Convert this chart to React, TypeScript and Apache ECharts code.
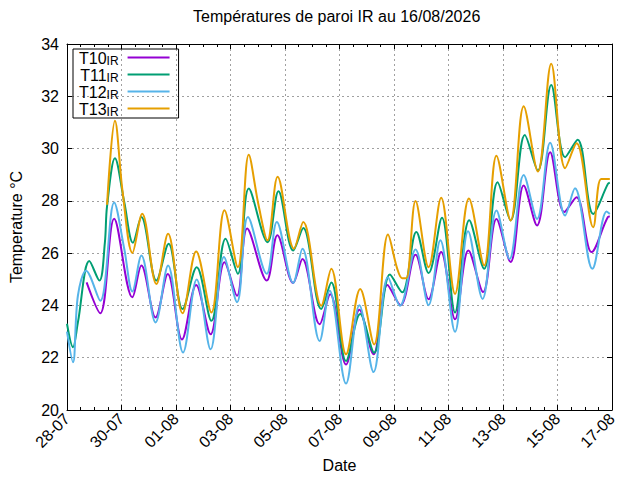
import * as echarts from 'echarts';
import React, { useEffect, useRef } from 'react';

// x = days since 28-07 00:00
const DATE_LABELS = ['28-07', '30-07', '01-08', '03-08', '05-08', '07-08', '09-08', '11-08', '13-08', '15-08', '17-08'];

const SERIES_NAMES = ['T10', 'T11', 'T12', 'T13'];
const SERIES_COLORS = ['#9400d3', '#009e73', '#56b4e9', '#e69f00'];

const T10_IR = [
  [0.72, 24.88], [1.22, 23.7], [1.73, 27.32], [2.4, 24.31], [2.73, 25.53], [3.25, 23.54], [3.7, 25.2],
  [4.22, 22.7], [4.74, 24.78], [5.27, 22.9], [5.78, 25.65], [6.24, 24.37], [6.61, 26.94], [7.33, 24.95],
  [7.72, 26.68], [8.3, 24.86], [8.64, 25.78], [9.27, 23.28], [9.66, 24.43], [10.24, 21.74], [10.73, 23.83],
  [11.25, 22.13], [11.76, 24.78], [12.24, 24.01], [12.79, 25.94], [13.27, 24.24], [13.73, 26.04],
  [14.24, 23.47], [14.73, 26.1], [15.27, 24.51], [15.76, 27.31], [16.28, 25.66], [16.76, 28.59],
  [17.25, 27.06], [17.73, 29.86], [18.25, 27.57], [18.7, 28.14], [19.25, 26.04], [19.85, 27.38], [19.92, 27.4],
];

const T11_IR = [
  [0, 23.3], [0.22, 22.4], [0.4, 23.35], [0.82, 25.7], [1.19, 24.95], [1.39, 26.4], [1.47, 27.8], [1.76, 29.63],
  [2.1, 27.96], [2.42, 26.4], [2.73, 27.38], [3.28, 24.95], [3.73, 26.36], [4.24, 23.86], [4.76, 25.46],
  [5.3, 23.41], [5.82, 26.55], [6.27, 25.21], [6.67, 28.47], [7.36, 26.42], [7.76, 28.37], [8.3, 26.1],
  [8.67, 26.96], [9.33, 23.86], [9.7, 24.88], [10.24, 21.87], [10.76, 23.67], [11.27, 22.19], [11.85, 25.18],
  [12.3, 24.5], [12.82, 26.81], [13.27, 25.24], [13.76, 27.35], [14.24, 23.73], [14.76, 27.26], [15.31, 25.4],
  [15.8, 28.71], [16.28, 27.25], [16.8, 30.52], [17.28, 29.16], [17.77, 32.43], [18.28, 29.67], [18.74, 30.34],
  [19.31, 27.5], [19.85, 28.65], [19.92, 28.7],
];

const T12_IR = [
  [0, 23.0], [0.22, 21.83], [0.4, 24.37], [0.7, 25.33], [1.22, 24.18], [1.73, 27.94], [2.1, 26.17], [2.4, 24.53],
  [2.73, 25.91], [3.25, 23.35], [3.71, 25.53], [4.26, 22.2], [4.76, 24.99], [5.27, 22.32], [5.76, 25.85],
  [6.24, 24.12], [6.64, 27.38], [7.33, 25.21], [7.7, 27.19], [8.3, 24.86], [8.64, 26.17], [9.27, 22.64],
  [9.64, 24.56], [10.24, 21.01], [10.73, 24.01], [11.25, 21.45], [11.78, 25.08], [12.22, 23.99], [12.79, 26.14],
  [13.27, 24.01], [13.7, 26.49], [14.24, 22.99], [14.72, 26.84], [15.25, 24.25], [15.76, 27.63], [16.24, 25.78],
  [16.76, 28.99], [17.25, 27.31], [17.73, 30.22], [18.28, 27.44], [18.64, 28.48], [19.28, 25.4], [19.8, 27.59],
  [19.92, 27.5],
];

const T13_IR = [
  [1.47, 27.85], [1.76, 31.06], [2.04, 28.35], [2.4, 26.01], [2.76, 27.51], [3.28, 24.82], [3.71, 26.74],
  [4.24, 23.7], [4.74, 26.06], [5.3, 23.73], [5.78, 27.64], [6.27, 25.46], [6.67, 29.76], [7.03, 27.83],
  [7.36, 26.49], [7.73, 28.92], [8.33, 26.17], [8.67, 27.19], [9.33, 23.99], [9.7, 25.4], [10.24, 22.13],
  [10.76, 24.63], [11.27, 22.51], [11.78, 26.71], [12.12, 25.4], [12.3, 25.04], [12.45, 25.04], [12.79, 27.99],
  [13.27, 25.46], [13.73, 28.12], [14.24, 24.44], [14.75, 28.09], [15.31, 25.53], [15.76, 29.73], [16.28, 27.25],
  [16.76, 31.62], [17.28, 29.12], [17.77, 33.24], [18.28, 29.25], [18.7, 30.2], [19.31, 26.99], [19.6, 28.84],
  [19.92, 28.84],
];

const SERIES_DATA = [T10_IR, T11_IR, T12_IR, T13_IR];

export default function App(): React.ReactElement {
  const containerRef = useRef<HTMLDivElement>(null);

  useEffect(() => {
    if (!containerRef.current) {
      return;
    }
    const chart = echarts.init(containerRef.current, undefined, { renderer: 'svg' });

    const font = 'Liberation Sans';
    const gridLine = { show: true, lineStyle: { color: '#a0a0a0', type: [2, 3], width: 1 } };
    const axisLine = { show: true, onZero: false, lineStyle: { color: '#000', width: 1 } };

    chart.setOption({
      animation: false,
      backgroundColor: '#fff',
      textStyle: { fontFamily: font, color: '#000' },
      title: {
        text: 'Températures de paroi IR au 16/08/2026',
        left: 193,
        top: 8,
        padding: 0,
        textStyle: { fontFamily: font, fontSize: 16, fontWeight: 'normal', color: '#000' },
      },
      grid: { left: 64, right: 28, top: 44, bottom: 70, containLabel: false },
      legend: {
        data: SERIES_NAMES,
        orient: 'vertical',
        left: 73,
        top: 49,
        align: 'right',
        itemWidth: 42,
        itemHeight: 15,
        itemGap: 0,
        padding: [1, 8, 0, 6],
        borderColor: '#000',
        borderWidth: 1,
        borderRadius: 0,
        itemStyle: { opacity: 0 },
        formatter: (name: string) => `{n|${name}}{s|IR}`,
        textStyle: {
          color: '#000',
          padding: [0, 4, 0, 0],
          rich: {
            n: { fontFamily: font, fontSize: 16, lineHeight: 15, color: '#000', verticalAlign: 'top' },
            s: { fontFamily: font, fontSize: 12, lineHeight: 10, color: '#000', verticalAlign: 'top', padding: [5, 0, 0, 0] },
          },
        },
      },
      xAxis: [
        {
          type: 'value',
          min: 0,
          max: 20,
          interval: 2,
          name: 'Date',
          nameLocation: 'middle',
          nameGap: 47,
          nameTextStyle: { fontFamily: font, fontSize: 16, color: '#000' },
          axisLine,
          axisTick: { show: true, inside: true, length: 5, lineStyle: { color: '#000' } },
          minorTick: { show: true, splitNumber: 4, length: 3, lineStyle: { color: '#000' } },
          axisLabel: {
            rotate: 45,
            margin: 6,
            fontFamily: font,
            fontSize: 16,
            color: '#000',
            formatter: (v: number) => DATE_LABELS[Math.round(v / 2)] ?? '',
          },
          splitLine: gridLine,
        },
        {
          type: 'value',
          position: 'top',
          min: 0,
          max: 20,
          interval: 2,
          axisLine,
          axisTick: { show: true, inside: true, length: 5, lineStyle: { color: '#000' } },
          minorTick: { show: true, splitNumber: 4, length: 3, lineStyle: { color: '#000' } },
          axisLabel: { show: false },
          splitLine: { show: false },
        },
      ],
      yAxis: [
        {
          type: 'value',
          min: 20,
          max: 34,
          interval: 2,
          name: 'Temperature °C',
          nameLocation: 'middle',
          nameRotate: 90,
          nameGap: 43,
          nameTextStyle: { fontFamily: font, fontSize: 16, color: '#000' },
          axisLine,
          axisTick: { show: true, inside: true, length: 5, lineStyle: { color: '#000' } },
          axisLabel: { margin: 8, fontFamily: font, fontSize: 16, color: '#000' },
          splitLine: gridLine,
        },
        {
          type: 'value',
          position: 'right',
          min: 20,
          max: 34,
          interval: 2,
          axisLine,
          axisTick: { show: true, inside: true, length: 5, lineStyle: { color: '#000' } },
          axisLabel: { show: false },
          splitLine: { show: false },
        },
      ],
      series: SERIES_NAMES.map((name, i) => ({
        name,
        type: 'line',
        xAxisIndex: 0,
        yAxisIndex: 0,
        data: SERIES_DATA[i],
        smooth: 0.35,
        symbol: 'none',
        showSymbol: false,
        color: SERIES_COLORS[i],
        lineStyle: { color: SERIES_COLORS[i], width: 2 },
      })),
    });

    return () => {
      chart.dispose();
    };
  }, []);

  return (
    <div
      ref={containerRef}
      style={{ position: 'fixed', left: 0, top: 0, width: 640, height: 480, background: '#fff' }}
    />
  );
}
